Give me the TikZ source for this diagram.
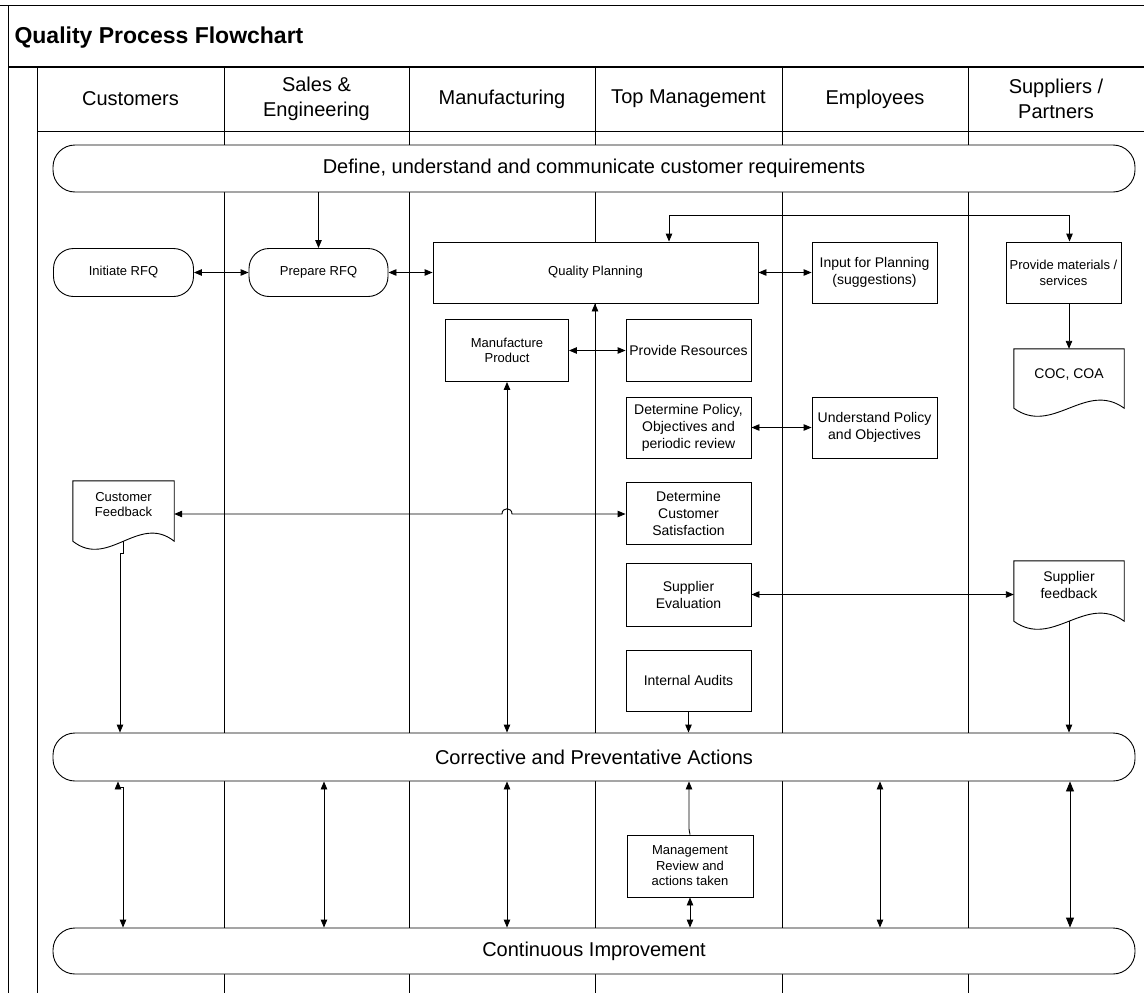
\documentclass[tikz,border=0pt]{standalone}
\usepackage{fontspec}
\setmainfont{Liberation Sans}
\usetikzlibrary{arrows.meta,calc}
\begin{document}
\begin{tikzpicture}[x=1pt,y=-1pt,
  lane/.style={line width=0.9pt},
  box/.style={draw, line width=0.9pt, fill=white, inner sep=1pt, align=center},
  smallt/.style={font=\fontsize{13}{15.5}\selectfont},
  medt/.style={font=\fontsize{14}{17}\selectfont},
  band/.style={draw, line width=0.9pt, fill=white, rounded corners=22pt, minimum width=1082pt, minimum height=47pt, font=\fontsize{20}{24}\selectfont},
  term/.style={box, rounded corners=20pt, minimum width=140pt, minimum height=48pt},
  hdr/.style={align=center, font=\fontsize{20}{25}\selectfont},
  docbox/.style={draw=none, inner sep=0pt},
  docline/.style={line width=0.9pt, fill=white},
  conn/.style={line width=0.9pt},
  ar/.style={conn, -{Triangle[length=8pt,width=6.5pt]}},
  dar/.style={conn, {Triangle[length=8pt,width=6.5pt]}-{Triangle[length=8pt,width=6.5pt]}},
  bigdar/.style={conn, {Triangle[length=10pt,width=8pt]}-{Triangle[length=10pt,width=8pt]}},
]
\useasboundingbox (0,0) rectangle (1144,993);

% frame and lanes
\draw[lane] (0,5) -- (1144,5);
\draw[lane] (8,5) -- (8,993);
\draw[line width=1.6pt] (8,67) -- (1144,67);
\draw[lane] (37,67) -- (37,993);
\draw[lane] (37,131) -- (1144,131);
\foreach \x in {224,409,595,782,968} \draw[lane] (\x,67) -- (\x,993);

\node[anchor=base west, font=\fontsize{23}{27}\selectfont\bfseries] (title) at (11,43) {Quality Process Flowchart};

\node[hdr] (hcu) at (130.5,99) {Customers};
\node[hdr] (hse) at (316.5,99) {Sales \&\\Engineering};
\node[hdr] (hma) at (502,99) {Manufacturing};
\node[hdr] (htm) at (688.5,99) {Top Management};
\node[hdr] (hem) at (875,99) {Employees};
\node[hdr] (hsu) at (1056,99) {Suppliers /\\Partners};

% bands
\node[band] (b1) at (594,168.5) {Define, understand and communicate customer requirements};
\node[band, minimum height=48pt] (b2) at (594,757) {Corrective and Preventative Actions};
\node[band, minimum height=46pt] (b3) at (594,951) {Continuous Improvement};

% process nodes
\node[term, smallt] (ir) at (123.5,272.5) {Initiate RFQ};
\node[term, smallt, minimum width=139pt] (pr) at (318.5,272.5) {Prepare RFQ};
\node[box, smallt, minimum width=325pt, minimum height=61pt] (qp) at (595.5,272.5) {Quality Planning};
\node[box, medt, minimum width=125pt, minimum height=61pt] (ip) at (874.5,272.5) {Input for Planning\\(suggestions)};
\node[box, font=\fontsize{13}{16}\selectfont, minimum width=115pt, minimum height=61pt] (pm) at (1063.5,272.5) {Provide materials /\\services};
\node[box, smallt, minimum width=123pt, minimum height=62pt] (mp) at (507,350.5) {Manufacture\\Product};
\node[box, medt, minimum width=125pt, minimum height=62pt] (pres) at (688.5,350) {Provide Resources};
\node[box, medt, minimum width=125pt, minimum height=61pt] (dp) at (688.5,427.5) {Determine Policy,\\Objectives and\\periodic review};
\node[box, medt, minimum width=125pt, minimum height=61pt] (up) at (874.5,427.5) {Understand Policy\\and Objectives};
\node[box, medt, minimum width=125pt, minimum height=62pt] (dcs) at (688.5,513) {Determine\\Customer\\Satisfaction};
\node[box, medt, minimum width=125pt, minimum height=63pt] (se) at (688.5,594.5) {Supplier\\Evaluation};
\node[box, medt, minimum width=125pt, minimum height=61pt] (ia) at (688.5,680.5) {Internal Audits};
\node[box, smallt, minimum width=126pt, minimum height=62pt] (mr) at (690,866) {Management\\Review and\\actions taken};

% document shapes
\node[docbox, minimum width=101pt, minimum height=60pt] (cf) at (123.5,511) {};
\node[docbox, minimum width=110pt, minimum height=59pt] (coc) at (1069,378.5) {};
\node[docbox, minimum width=110pt, minimum height=60pt] (sf) at (1069,591) {};
\foreach \d in {cf,coc,sf}
  \draw[docline] (\d.north west) -- (\d.north east) -- (\d.south east)
    .. controls ($(\d.south east)!0.35!(\d.south west)+(0,-28)$) and ($(\d.south west)!0.35!(\d.south east)+(0,28)$) .. (\d.south west) -- cycle;
\node[smallt, align=center] (cft) at (123.5,504.5) {Customer\\Feedback};
\node[medt] (coct) at (1069,375) {COC, COA};
\node[medt, align=center] (sft) at (1069,585) {Supplier\\feedback};

% connectors
\draw[ar] (b1.south -| pr.north) -- (pr.north);
\draw[dar] (ir.east) -- (pr.west);
\draw[dar] (pr.east) -- (qp.west);
\coordinate (qpt) at (669,215);
\coordinate (pmt) at (1069.5,215);
\draw[dar] (qpt |- qp.north) -- (qpt) -- (pmt) -- (pmt |- pm.north);
\draw[dar] (qp.east) -- (ip.west);
\draw[ar] (pm.south -| coc.north) -- (coc.north);
\coordinate (tml) at (595,330);
\draw[ar] (tml) -- (tml |- qp.south);
\draw[dar] (mp.east) -- (mp.east -| pres.west);
\draw[dar] (mp.south) -- (mp.south |- b2.north);
\draw[dar] (dp.east) -- (up.west);
\coordinate (hop) at (507,514);
\draw[dar] (dcs.west |- hop) -- ($(hop)+(5,0)$) .. controls ($(hop)+(5,-7)$) and ($(hop)+(-5,-7)$) .. ($(hop)+(-5,0)$) -- (cf.east |- hop);
\draw[dar] (se.east) -- (sf.west |- se.east);
\draw[ar] (sf.south) -- (sf.south |- b2.north);
\draw[ar] (ia.south) -- (ia.south |- b2.north);
\coordinate (cfj) at (120,553);
\draw[ar] (cf.south) |- (cfj) -- (cfj |- b2.north);

\coordinate (j1a) at (118,787);
\coordinate (j1b) at (123,787);
\draw[dar] (j1a |- b2.south) -- (j1a) -- (j1b) -- (j1b |- b3.north);
\coordinate (l2) at (324,850);
\draw[dar] (l2 |- b2.south) -- (l2 |- b3.north);
\draw[dar] (mp.south |- b2.south) -- (mp.south |- b3.north);
\coordinate (mrj) at (689,829);
\draw[ar] (mr.north) -- (mrj) -- (mrj |- b2.south);
\draw[dar] (mr.south) -- (mr.south |- b3.north);
\coordinate (l5) at (880,850);
\draw[dar] (l5 |- b2.south) -- (l5 |- b3.north);
\coordinate (l6) at (1070,850);
\draw[bigdar] (l6 |- b2.south) -- (l6 |- b3.north);
\end{tikzpicture}
\end{document}
